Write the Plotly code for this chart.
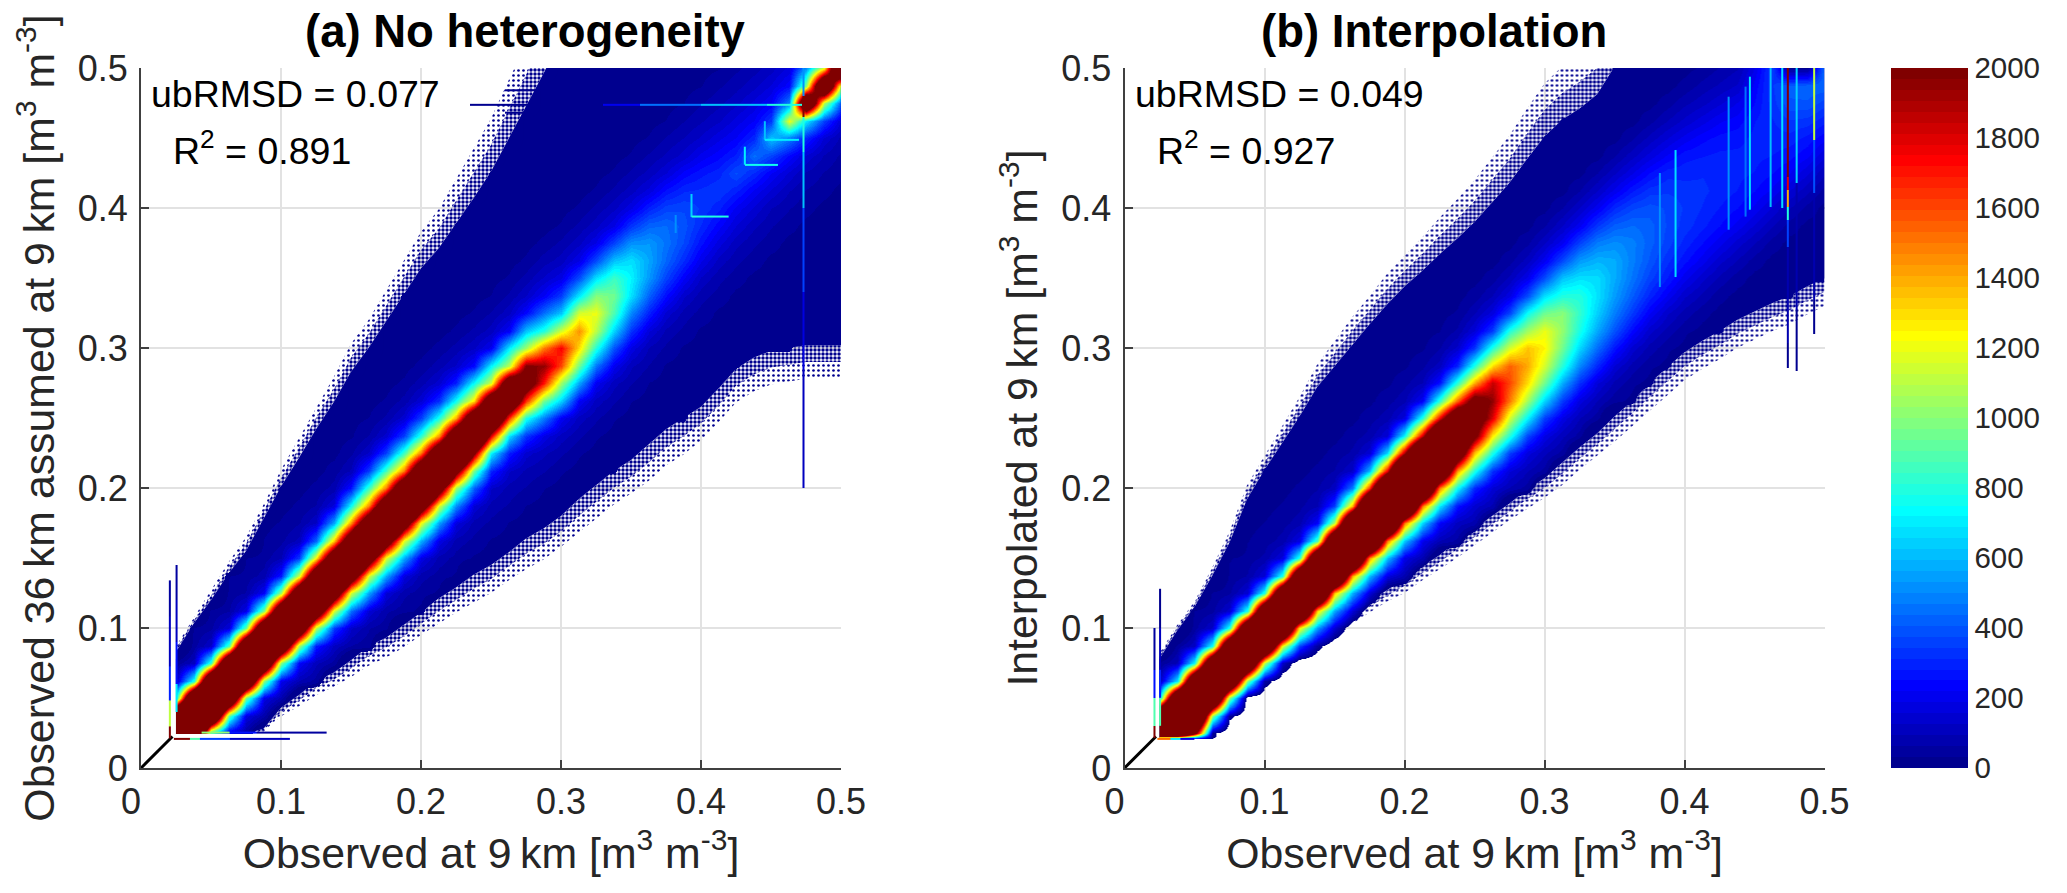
import plotly.graph_objects as go

W, H = 2067, 893
STEP = 0.0125
GRID = [0.025 + STEP * i for i in range(39)]
OFFSETS = list(range(-6, 7))
TICKS = [0, 0.1, 0.2, 0.3, 0.4, 0.5]
TICK_TEXT = ["0\u00a0\u00a0", "0.1", "0.2", "0.3", "0.4", "0.5"]
Y_TICK_TEXT = ["0", "0.1", "0.2", "0.3", "0.4", "0.5"]
CB_TICKS = [0, 200, 400, 600, 800, 1000, 1200, 1400, 1600, 1800, 2000]

# Pair counts: one row per x column, cells at y-x = offset*STEP, offsets -6..+6
COUNTS_A = [
    [0,0,0,0,0,0,4000,3500,700,100,40,30,25],
    [0,0,0,0,0,4000,4000,3300,800,110,50,35,25],
    [0,0,0,0,800,3200,4000,3200,850,130,55,40,30],
    [0,0,0,150,900,3000,4000,3100,900,160,60,40,30],
    [0,0,60,170,950,3000,4000,3000,950,190,65,45,30],
    [0,30,70,180,1000,2900,4000,2900,1000,220,75,48,33],
    [30,40,80,200,1000,2800,4000,2800,1050,280,90,55,35],
    [30,45,90,230,1050,2700,4000,2750,1150,340,105,60,38],
    [30,48,100,280,1100,2600,4000,2700,1250,430,125,65,40],
    [32,50,115,350,1150,2500,4000,2650,1350,560,170,75,45],
    [35,60,130,450,1150,2450,4000,2600,1450,750,260,100,55],
    [40,65,150,550,1150,2400,4000,2600,1500,850,350,130,65],
    [40,70,160,560,1180,2400,4000,2650,1500,870,350,140,70],
    [42,72,170,570,1180,2400,4000,2700,1500,850,350,145,75],
    [45,75,180,580,1200,2400,4000,2700,1500,820,350,150,80],
    [48,80,180,550,1150,2350,3900,2700,1450,780,320,140,80],
    [50,80,170,500,1050,2200,3600,2700,1400,760,290,130,75],
    [52,80,150,420,950,2050,3300,2650,1300,740,250,120,70],
    [55,80,130,300,720,1800,3000,2600,1150,720,200,110,65],
    [58,80,130,290,680,1650,2700,2500,1100,700,220,115,70],
    [60,85,140,330,780,1650,2300,2000,1050,620,240,125,75],
    [65,100,180,480,950,1700,1950,1500,800,450,220,130,80],
    [70,110,210,650,1050,1600,1750,1150,620,350,180,110,70],
    [70,110,220,560,950,1300,1450,1150,700,380,190,115,72],
    [70,110,210,460,800,1100,1200,1000,680,380,190,115,72],
    [68,105,200,390,650,880,950,850,620,360,185,115,72],
    [65,100,180,330,500,680,720,680,520,330,180,112,70],
    [60,90,160,290,420,530,560,530,430,290,170,105,68],
    [55,85,145,250,360,430,460,440,360,260,155,100,65],
    [52,80,130,220,310,370,390,370,310,230,140,95,62],
    [50,75,120,190,260,310,340,320,270,200,130,90,60],
    [48,72,110,170,230,290,340,300,240,180,120,85,58],
    [45,70,105,155,210,290,380,290,220,170,115,82,55],
    [45,68,100,150,210,310,450,300,220,165,115,80,55],
    [45,65,95,150,220,360,620,340,220,160,110,80,55],
    [42,65,95,150,240,480,1200,480,240,165,110,80,55],
    [42,60,90,150,300,700,3000,1000,500,260,0,0,0],
    [42,60,90,150,350,1100,3000,1200,0,0,0,0,0],
    [40,55,85,150,400,1100,3200,0,0,0,0,0,0],
]
COUNTS_B = [
    [0,0,0,0,0,0,4000,3300,650,90,35,25,20],
    [0,0,0,0,0,4000,4000,3200,700,100,45,30,22],
    [0,0,0,0,2200,3800,4000,3100,750,120,50,35,25],
    [0,0,0,30,1000,3300,4000,3000,780,130,55,38,27],
    [0,0,20,30,1000,3100,4000,3000,800,140,58,40,28],
    [0,20,20,30,1000,3100,4000,3000,800,150,65,45,30],
    [20,20,20,60,1100,3200,4000,3000,800,160,70,48,32],
    [20,20,25,120,1200,3300,4000,3000,800,170,75,50,35],
    [20,25,40,350,1250,3400,4000,3000,820,180,80,55,38],
    [25,30,40,530,1300,3400,4000,3100,900,230,90,60,40],
    [30,35,140,560,1350,3400,4000,3200,1100,350,110,65,42],
    [36,60,150,580,1400,3400,4000,3400,1400,480,130,70,45],
    [38,65,160,600,1450,3500,4000,3500,1650,600,150,75,48],
    [40,70,170,610,1480,3500,4000,3600,1800,680,160,80,50],
    [42,80,180,620,1500,3500,4000,3700,1900,750,170,85,52],
    [45,85,200,650,1500,3300,3900,3500,1850,800,220,95,55],
    [48,90,230,700,1500,3000,3500,3200,1750,820,260,110,60],
    [52,110,260,740,1420,2500,2900,2700,1550,820,300,135,70],
    [80,140,300,780,1350,2100,2300,2200,1400,800,330,160,90],
    [85,150,320,780,1250,1800,1950,1850,1300,800,350,170,95],
    [90,160,350,800,1150,1500,1600,1550,1150,800,360,180,100],
    [95,170,360,720,1050,1300,1400,1350,1050,750,380,195,110],
    [100,180,350,650,950,1150,1250,1200,950,680,380,210,120],
    [100,180,340,570,800,950,1020,1000,800,620,380,210,125],
    [95,170,320,500,660,780,830,800,680,540,360,210,125],
    [90,160,300,440,560,640,680,670,590,480,340,210,125],
    [85,150,270,390,480,540,570,570,510,420,310,200,120],
    [80,140,240,340,410,460,480,480,440,370,280,185,115],
    [80,135,220,300,360,400,420,420,390,330,250,170,105],
    [80,130,210,280,320,360,370,370,340,300,225,155,95],
    [80,130,200,260,300,330,340,330,300,270,200,135,85],
    [85,135,200,250,290,310,320,310,280,240,175,115,75],
    [85,135,200,250,280,300,300,290,260,215,150,100,65],
    [90,140,205,250,280,290,290,270,235,190,130,90,60],
    [95,150,210,250,280,290,290,280,250,230,190,120,75],
    [95,150,210,250,280,300,310,330,340,350,320,0,0],
    [95,155,220,260,300,340,400,420,0,0,0,0,0],
    [100,160,225,270,330,400,430,0,0,0,0,0,0],
    [100,160,230,290,360,430,450,0,0,0,0,0,0],
]

# Upper and lower limits of the populated area, per x column
TOP_A = [.085,.105,.123,.143,.16,.183,.207,.228,.25,.27,.293,.31,.33,.35,.37,.385,.405,.425,.445,.47,.495,
         .52,.545,.57,.59,.61,.63,.65,.67,.69,.71,.73,.75,.77,.79,.81,.83,.85,.87]
LOW_A = [.0245,.0245,.0245,.0245,.0245,.027,.04,.048,.057,.063,.071,.08,.086,.094,.103,.112,.12,.128,.135,.144,.153,
         .16,.169,.18,.19,.2,.208,.218,.229,.237,.246,.259,.273,.281,.286,.288,.29,.29,.29]
TOP_B = [.08,.10,.117,.14,.165,.197,.218,.238,.258,.28,.296,.312,.327,.342,.355,.367,.38,.392,.405,.42,.435,
         .453,.47,.482,.49,.5,.52,.54,.56,.58,.60,.62,.64,.66,.68,.70,.72,.74,.76]
LOW_B = [.021,.021,.024,.03,.042,.056,.066,.075,.083,.09,.098,.107,.115,.123,.13,.139,.147,.156,.165,.174,.183,
         .192,.2,.21,.221,.231,.242,.253,.265,.276,.287,.295,.302,.31,.316,.322,.327,.334,.34]
# Half width of the speckled fringe at each limit, per x column
FRINGE_TOP_A = [.002,.002,.003,.004,.005,.005,.006,.007,.008,.009,.01,.01,.011,.012,.013,.014,.016,.018,.019,.021,.022,
                .024,.024,.024,.024,.024,.024,.024,.024,.024,.024,.024,.024,.024,.024,.024,.024,.024,.024]
FRINGE_LOW_A = [0,0,0,0,0,.001,.003,.004,.005,.005,.006,.007,.007,.008,.008,.009,.009,.01,.01,.01,.011,
                .011,.011,.012,.012,.012,.012,.013,.013,.013,.012,.012,.012,.012,.012,.012,.012,.012,.012]
FRINGE_TOP_B = [.002,.002,.002,.003,.004,.005,.005,.006,.007,.008,.009,.01,.01,.011,.011,.012,.013,.014,.015,.016,.017,
                .018,.019,.019,.019,.019,.019,.019,.019,.019,.019,.019,.019,.019,.019,.019,.019,.019,.019]
FRINGE_LOW_B = [0,0,0,0,0,.001,.001,.001,.001,.002,.002,.004,.004,.004,.005,.005,.005,.006,.006,.006,.006,
                .007,.007,.008,.008,.008,.009,.009,.01,.01,.01,.01,.01,.01,.01,.01,.01,.01,.01]
# How far below the limit a column's table cells stay drawn
SLACK_A = [0] * 39
SLACK_B = [0,0,0,.006,.006,.006,.006,.006,.006,.006] + [0] * 29
FILL = 20

# Thin streaks: position, edges along the streak, count of each piece
V_STREAKS_A = [
    (.4733, [.2,.285,.34,.4,.44,.465,.48,.5], [100,180,350,600,800,3000,500]),
    (.0255, [.04,.06,.09,.12,.145], [700,250,100,40]),
    (.0207, [.0215,.0295,.0486,.0724,.108,.134], [2200,1100,300,120,40]),
    (.3933, [.3938,.41], [650]),
    (.4314, [.4307,.4438], [700]),
    (.382, [.382,.395], [500]),
    (.4457, [.4486,.462], [600]),
]
H_STREAKS_A = [
    (.0252, [.0433,.0636,.0826,.1326], [1000,250,60]),
    (.0207, [.0235,.035,.0424,.0636,.106], [2200,900,350,100]),
    (.4736, [.235,.33,.3564,.4,.447,.472], [15,200,450,600,800]),
    (.484, [.26,.31], [15]),
    (.468, [.26,.31], [15]),
    (.3938, [.3933,.42], [800]),
    (.4307, [.4314,.455], [750]),
    (.4486, [.4457,.47], [700]),
]
V_STREAKS_B = [
    (.3825, [.3436,.425], [500]),
    (.3937, [.351,.4414], [680]),
    (.4316, [.3843,.4795], [520]),
    (.4437, [.394,.4867], [460]),
    (.4468, [.3986,.4938], [680]),
    (.4616, [.401,.5], [620]),
    (.4699, [.4,.5], [680]),
    (.4739, [.2855,.3033,.3724,.3914,.401,.4129,.4224,.5], [20,70,350,800,1400,1800,2400]),
    (.4802, [.2836,.327,.4176,.5], [20,80,650]),
    (.4927, [.31,.334,.4105,.4486,.5], [20,80,400,1100]),
    (.0255, [.03,.05,.07,.1,.128], [900,300,110,30]),
    (.0215, [.0215,.03,.05,.07,.1], [2000,900,250,60]),
]
H_STREAKS_B = [
    (.0207, [.0235,.033,.04,.05], [1500,700,200]),
]

JET_LEVELS = 64
EDGE_BLUE = "rgb(0,0,143)"


def jet(t):
    def ramp(c):
        return max(0.0, min(1.0, 1.5 - abs(4 * t - c)))
    return f"rgb({round(255*ramp(3))},{round(255*ramp(2))},{round(255*ramp(1))})"


def stair(lo, hi, zmin, zmax):
    stops = []
    span = zmax - zmin
    for n in range(JET_LEVELS):
        a = (lo + (hi - lo) * n / JET_LEVELS - zmin) / span
        b = (lo + (hi - lo) * (n + 1) / JET_LEVELS - zmin) / span
        c = jet((n + 1) / JET_LEVELS)
        stops += [[a, c], [b, c]]
    return stops


ZMIN, ZMAX = -100, 2000
HEAT_SCALE = [[0, "rgba(255,255,255,0)"], [(0 - ZMIN) / (ZMAX - ZMIN), "rgba(255,255,255,0)"]] + stair(0, ZMAX, ZMIN, ZMAX)
BAR_SCALE = stair(0, ZMAX, 0, ZMAX)


def field(counts, top, low, slack, y_mask):
    rows = len(GRID)
    z = [[-100.0] * rows for _ in range(rows)]  # z[col][row]
    for i in range(rows):
        for j, y in enumerate(GRID):
            k = j - i
            if y > top[i] or y < low[i] - slack[i]:
                continue
            v = counts[i][k + 6] if abs(k) <= 6 else FILL
            if abs(k) == 7:
                edge = counts[i][12] if k > 0 else counts[i][0]
                v = max(FILL, edge // 2)
            z[i][j] = float(v if v else FILL)
    xs = [0.024] + GRID
    ys = [y_mask] + GRID
    zz = [[-5.0] * len(xs)]
    for j in range(rows):
        zz.append([-5.0] + [z[i][j] for i in range(rows)])
    return xs, ys, zz


def streak_v(pos, edges, vals, xa, ya, w=.0016):
    return go.Heatmap(x=[pos - w / 2, pos + w / 2], y=edges, z=[[v] for v in vals], zmin=ZMIN, zmax=ZMAX,
                      colorscale=HEAT_SCALE, showscale=False, hoverinfo="skip", xaxis=xa, yaxis=ya)


def streak_h(pos, edges, vals, xa, ya, w=.0016):
    return go.Heatmap(y=[pos - w / 2, pos + w / 2], x=edges, z=[vals], zmin=ZMIN, zmax=ZMAX,
                      colorscale=HEAT_SCALE, showscale=False, hoverinfo="skip", xaxis=xa, yaxis=ya)


def region(xs_up, ys_up, ys_dn, xa, ya, **kw):
    return go.Scatter(x=list(xs_up) + list(xs_up)[::-1], y=list(ys_up) + list(ys_dn)[::-1], mode="lines",
                      line=dict(width=0), fill="toself", hoverinfo="skip", showlegend=False, xaxis=xa, yaxis=ya, **kw)


DENSE = dict(shape=".", size=4, solidity=0.6, fgcolor=EDGE_BLUE, bgcolor="rgba(255,255,255,0)", fillmode="replace")
SPARSE = dict(shape=".", size=5, solidity=0.22, fgcolor=EDGE_BLUE, bgcolor="rgba(255,255,255,0)", fillmode="replace")
CLEAR = "rgba(0,0,0,0)"

fig = go.Figure()
panels = [
    ("x", "y", "x3", "y3", COUNTS_A, TOP_A, LOW_A, FRINGE_TOP_A, FRINGE_LOW_A, SLACK_A, .024, V_STREAKS_A, H_STREAKS_A),
    ("x2", "y2", "x4", "y4", COUNTS_B, TOP_B, LOW_B, FRINGE_TOP_B, FRINGE_LOW_B, SLACK_B, .0205, V_STREAKS_B, H_STREAKS_B),
]
for xa, ya, xo, yo, counts, top, low, ft, fl, slack, ym, vs, hs in panels:
    top_in = [t - f for t, f in zip(top, ft)]
    top_out = [t + f for t, f in zip(top, ft)]
    low_in = [t + f for t, f in zip(low, fl)]
    low_out = [t - f for t, f in zip(low, fl)]
    fig.add_trace(region(GRID, top_out, top, xa, ya, fillcolor=CLEAR, fillpattern=SPARSE))
    fig.add_trace(region(GRID, top, top_in, xa, ya, fillcolor=CLEAR, fillpattern=DENSE))
    fig.add_trace(region(GRID, low, low_out, xa, ya, fillcolor=CLEAR, fillpattern=SPARSE))
    fig.add_trace(region(GRID, low_in, low, xa, ya, fillcolor=CLEAR, fillpattern=DENSE))
    fig.add_trace(region(GRID, top_in, low_in, xa, ya, fillcolor=EDGE_BLUE))
    xs, ys, zz = field(counts, top_in, low_in, slack, ym)
    fig.add_trace(go.Heatmap(x=xs, y=ys, z=zz, zmin=ZMIN, zmax=ZMAX, zsmooth="best", colorscale=HEAT_SCALE,
                             showscale=False, hoverinfo="skip", xaxis=xo, yaxis=yo))
    for p, e, v in vs:
        fig.add_trace(streak_v(p, e, v, xo, yo))
    for p, e, v in hs:
        fig.add_trace(streak_h(p, e, v, xo, yo))
    fig.add_trace(go.Scatter(x=[0, 0.0225], y=[0, 0.0225], mode="lines", line=dict(color="black", width=3),
                             hoverinfo="skip", showlegend=False, xaxis=xa, yaxis=ya))

fig.add_trace(go.Scatter(x=[None], y=[None], mode="markers", showlegend=False, hoverinfo="skip",
                         marker=dict(color=[0], cmin=0, cmax=ZMAX, colorscale=BAR_SCALE, showscale=True,
                                     colorbar=dict(x=1891 / W, xanchor="left", xpad=0, y=(H - 418) / H, yanchor="middle",
                                                   ypad=0, len=700 / H, lenmode="fraction", thickness=77,
                                                   thicknessmode="pixels", outlinewidth=0, ticks="",
                                                   tickvals=CB_TICKS, ticktext=[str(t) for t in CB_TICKS],
                                                   tickfont=dict(size=29.5, color="#262626")))))

axis = dict(range=[0, .5], tickvals=TICKS, ticks="inside", ticklen=8, tickwidth=2,
            tickcolor="#404040", showline=True, linecolor="#404040", linewidth=2, showgrid=True,
            gridcolor="#e2e2e2", gridwidth=2, zeroline=False, mirror=False, automargin=False,
            tickfont=dict(size=36, color="#262626"), title_font=dict(size=42.8, color="#262626"))
hidden = dict(range=[0, .5], visible=False, showgrid=False, zeroline=False, automargin=False)
unit = "[m<sup>3</sup> m<sup>-3</sup>]"
xt = f"Observed at 9\u2009km {unit}"
px_top, px_bot = 68, 768
yd = [(H - px_bot) / H, (H - px_top) / H]
fig.update_layout(
    width=W, height=H, margin=dict(l=0, r=0, t=0, b=0), paper_bgcolor="white", plot_bgcolor="white",
    font=dict(family="Liberation Sans"), showlegend=False,
    xaxis=dict(axis, domain=[141 / W, 841 / W], anchor="y", ticktext=TICK_TEXT, ticklabelstandoff=1,
               title=dict(text=xt, standoff=17)),
    yaxis=dict(axis, domain=yd, anchor="x", ticktext=Y_TICK_TEXT, ticklabelstandoff=4,
               title=dict(text=f"Observed 36\u2009km assumed at 9\u2009km {unit}", standoff=10)),
    xaxis2=dict(axis, domain=[1124.5 / W, 1824.5 / W], anchor="y2", ticktext=TICK_TEXT, ticklabelstandoff=1,
                title=dict(text=xt, standoff=17)),
    yaxis2=dict(axis, domain=yd, anchor="x2", ticktext=Y_TICK_TEXT, ticklabelstandoff=4,
                title=dict(text=f"Interpolated at 9\u2009km {unit}", standoff=10)),
    xaxis3=dict(hidden, overlaying="x", anchor="y3"),
    yaxis3=dict(hidden, overlaying="y", anchor="x3"),
    xaxis4=dict(hidden, overlaying="x2", anchor="y4"),
    yaxis4=dict(hidden, overlaying="y2", anchor="x4"),
)


def note(text, x, y, size=37.5, bold=False):
    fig.add_annotation(text=f"<b>{text}</b>" if bold else text, x=x / W, y=1 - y / H, xref="paper", yref="paper",
                       showarrow=False, xanchor="center" if bold else "left", yanchor="middle",
                       font=dict(size=size, color="black"), align="left")


note("(a) No heterogeneity", 525, 32, 45.5, True)
note("(b) Interpolation", 1434, 32, 45.5, True)
note("ubRMSD = 0.077", 149, 94)
note("R<sup>2</sup> = 0.891", 171, 148)
note("ubRMSD = 0.049", 1133, 94)
note("R<sup>2</sup> = 0.927", 1155, 148)

fig.write_html("out.html", config={"displayModeBar": False}, post_script="document.body.style.margin='0';")
